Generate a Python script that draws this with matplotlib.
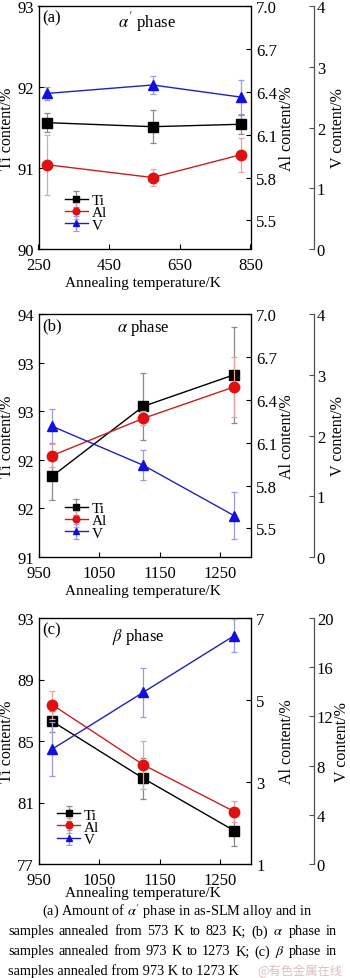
import numpy as np
import matplotlib
matplotlib.use('Agg')
import matplotlib.pyplot as plt

plt.rcParams['font.family'] = ['Liberation Serif', 'DejaVu Serif']
plt.rcParams['mathtext.fontset'] = 'stix'

# ---------------- data ----------------
# Panel (a): alpha' phase
temp_a = [273, 573, 823]
ti_a = [91.56, 91.51, 91.54]
ti_a_err = [0.12, 0.20, 0.12]
al_a = [5.89, 5.80, 5.96]
al_a_err = [0.21, 0.06, 0.12]
v_a = [2.56, 2.70, 2.50]
v_a_err = [0.10, 0.15, 0.28]

# Panel (b): alpha phase
temp_b = [973, 1123, 1273]
ti_b = [92.00, 92.86, 93.25]
ti_b_err = [0.30, 0.41, 0.59]
al_b = [6.01, 6.27, 6.49]
al_b_err = [0.08, 0.05, 0.21]
v_b = [2.15, 1.51, 0.68]
v_b_err = [0.28, 0.25, 0.39]

# Panel (c): beta phase
temp_c = [973, 1123, 1273]
ti_c = [86.27, 82.57, 79.17]
ti_c_err = [0.70, 1.35, 0.98]
al_c = [4.88, 3.42, 2.28]
al_c_err = [0.35, 0.58, 0.26]
v_c = [9.35, 13.96, 18.56]
v_c_err = [2.17, 2.00, 1.35]

xticks_a = [250, 450, 650, 850]
xticks_bc = [950, 1050, 1150, 1250]

W, H = 350, 979
fig = plt.figure(figsize=(W / 100, H / 100), dpi=100)

FS = 11        # legend / x label
TFS = 12       # tick labels, tags
LFS = 11.5     # y labels
C_TI, C_AL, C_V = 'black', '#e01010', '#1010e0'
L_TI, L_AL, L_V = 'black', '#c82020', '#2020c0'
E_TI, E_AL, E_V = '#8a8a8a', '#e8a0a0', '#9a9ae0'
SPG = '#505050'


def px_axes(left, top, right, bottom):
    return fig.add_axes([left / W, 1 - bottom / H, (right - left) / W, (bottom - top) / H])


def panel(top, bottom, x, ti, tie, al, ale, v, ve, xlim, xticks,
          tilim, titicks, tilabels, allim, alticks, allabels, vlim, vticks,
          tag, phase, phase_xy, leg_x, vlab_x=338):
    left, right = 38.5, 250.5
    ax = px_axes(left, top, right, bottom)
    ax2 = ax.twinx()
    ax3 = ax.twinx()
    ax3.spines['right'].set_position(('axes', (314 - left) / (right - left)))
    for s in ['top', 'left', 'bottom']:
        ax3.spines[s].set_visible(False)
    ax3.spines['right'].set_color(SPG)

    kw = dict(capsize=2.2, elinewidth=0.9, capthick=0.9, lw=1.0)
    h1 = ax.errorbar(x, ti, yerr=tie, color=L_TI, ecolor=E_TI, marker='s', ms=6.5,
                     mfc=C_TI, mec=C_TI, label='Ti', **kw)
    h2 = ax2.errorbar(x, al, yerr=ale, color=L_AL, ecolor=E_AL, marker='o', ms=7.5,
                      mfc=C_AL, mec=C_AL, label='Al', **kw)
    h3 = ax3.errorbar(x, v, yerr=ve, color=L_V, ecolor=E_V, marker='^', ms=7.5,
                      mfc=C_V, mec=C_V, label='V', **kw)

    ax.set_xlim(*xlim)
    ax.set_xticks(xticks)
    ax.set_ylim(*tilim)
    ax.set_yticks(titicks)
    ax.set_yticklabels(tilabels)
    ax2.set_ylim(*allim)
    ax2.set_yticks(alticks)
    ax2.set_yticklabels(allabels)
    ax3.set_ylim(*vlim)
    ax3.set_yticks(vticks)

    for a in (ax, ax2, ax3):
        a.tick_params(direction='in', labelsize=TFS, length=3.5, width=0.8)
    ax.tick_params(axis='y', pad=3.5)
    ax.tick_params(axis='x', pad=6)
    ax2.tick_params(axis='y', pad=4)
    ax3.tick_params(axis='y', pad=2, colors='black', color=SPG)
    for s in ax.spines.values():
        s.set_linewidth(0.9)
    ax3.spines['right'].set_linewidth(0.9)

    ax3.legend([h1, h2, h3], ['Ti', 'Al', 'V'], loc='upper left',
               bbox_to_anchor=(leg_x, 0.228), frameon=False, fontsize=FS,
               borderpad=0, borderaxespad=0, handlelength=1.5,
               handletextpad=0.25, labelspacing=-0.1, markerscale=0.65)

    ax.text(0.02, 0.952, tag, transform=ax.transAxes, fontsize=TFS, ha='left', va='center')
    ax.text(phase_xy[0], phase_xy[1], phase, transform=ax.transAxes, fontsize=TFS,
            ha='center', va='center')

    cy = (top + bottom) / 2
    fig.text(7.5 / W, 1 - cy / H, 'Ti content/%', rotation=90, ha='center', va='center', fontsize=LFS)
    fig.text(287 / W, 1 - cy / H, 'Al content/%', rotation=90, ha='center', va='center', fontsize=LFS)
    fig.text(vlab_x / W, 1 - cy / H, 'V content/%', rotation=90, ha='center', va='center', fontsize=LFS)
    return ax


panel(7, 250, temp_a, ti_a, ti_a_err, al_a, al_a_err, v_a, v_a_err,
      (250, 850), xticks_a,
      (90, 93), [90, 91, 92, 93], ['90', '91', '92', '93'],
      (5.3, 7.0), [5.5, 5.8, 6.1, 6.4, 6.7, 7.0], ['5.5', '5.8', '6.1', '6.4', '6.7', '7.0'],
      (0, 4), [0, 1, 2, 3, 4],
      '(a)', r"$\alpha'$ phase", (0.51, 0.94), 0.125)
fig.text(143 / W, 1 - 283 / H, 'Annealing temperature/K', ha='center', va='center', fontsize=FS)

ti_b_ticks = list(np.linspace(91, 94, 6))
panel(315, 558, temp_b, ti_b, ti_b_err, al_b, al_b_err, v_b, v_b_err,
      (950, 1300), xticks_bc,
      (91, 94), ti_b_ticks, [f'{t:.0f}' for t in ti_b_ticks],
      (5.3, 7.0), [5.5, 5.8, 6.1, 6.4, 6.7, 7.0], ['5.5', '5.8', '6.1', '6.4', '6.7', '7.0'],
      (0, 4), [0, 1, 2, 3, 4],
      '(b)', r"$\alpha$ phase", (0.493, 0.945), 0.125)
fig.text(143 / W, 1 - 591.5 / H, 'Annealing temperature/K', ha='center', va='center', fontsize=FS)

panel(619, 865, temp_c, ti_c, ti_c_err, al_c, al_c_err, v_c, v_c_err,
      (950, 1300), xticks_bc,
      (77, 93), [77, 81, 85, 89, 93], ['77', '81', '85', '89', '93'],
      (1, 7), [1, 3, 5, 7], ['1', '3', '5', '7'],
      (0, 20), [0, 4, 8, 12, 16, 20],
      '(c)', r"$\beta$ phase", (0.473, 0.928), 0.088, vlab_x=341.5)
fig.text(143 / W, 1 - 894 / H, 'Annealing temperature/K', ha='center', va='center', fontsize=FS)

# ---------------- caption ----------------
CFS = 10.3
renderer = fig.canvas.get_renderer()


def justify(line, x0, x1, yb):
    words = line.split(' ')
    txts = [fig.text(0, 1 - yb / H, w, fontsize=CFS, ha='left', va='baseline') for w in words]
    widths = [t.get_window_extent(renderer).width for t in txts]
    gap = ((x1 - x0) - sum(widths)) / (len(words) - 1)
    x = x0
    for t, w in zip(txts, widths):
        t.set_x(x / W)
        x += w + gap


fig.text(177 / W, 1 - 915.5 / H, r"(a) Amount of $\alpha'$ phase in as-SLM alloy and in",
         fontsize=CFS, ha='center', va='baseline')
justify(r"samples annealed from 573 K to 823 K; (b) $\alpha$ phase in", 8, 337, 935.5)
justify(r"samples annealed from 973 K to 1273 K; (c) $\beta$ phase in", 8, 337, 955.5)
fig.text(8 / W, 1 - 975 / H, "samples annealed from 973 K to 1273 K",
         fontsize=CFS, ha='left', va='baseline')
fig.text(300 / W, 1 - 971 / H, "@有色金属在线", fontsize=8.8, ha='center', va='center',
         color='#dcc0c0', family=['Noto Sans CJK SC', 'DejaVu Sans'])

fig.savefig('out.png', dpi=100)
